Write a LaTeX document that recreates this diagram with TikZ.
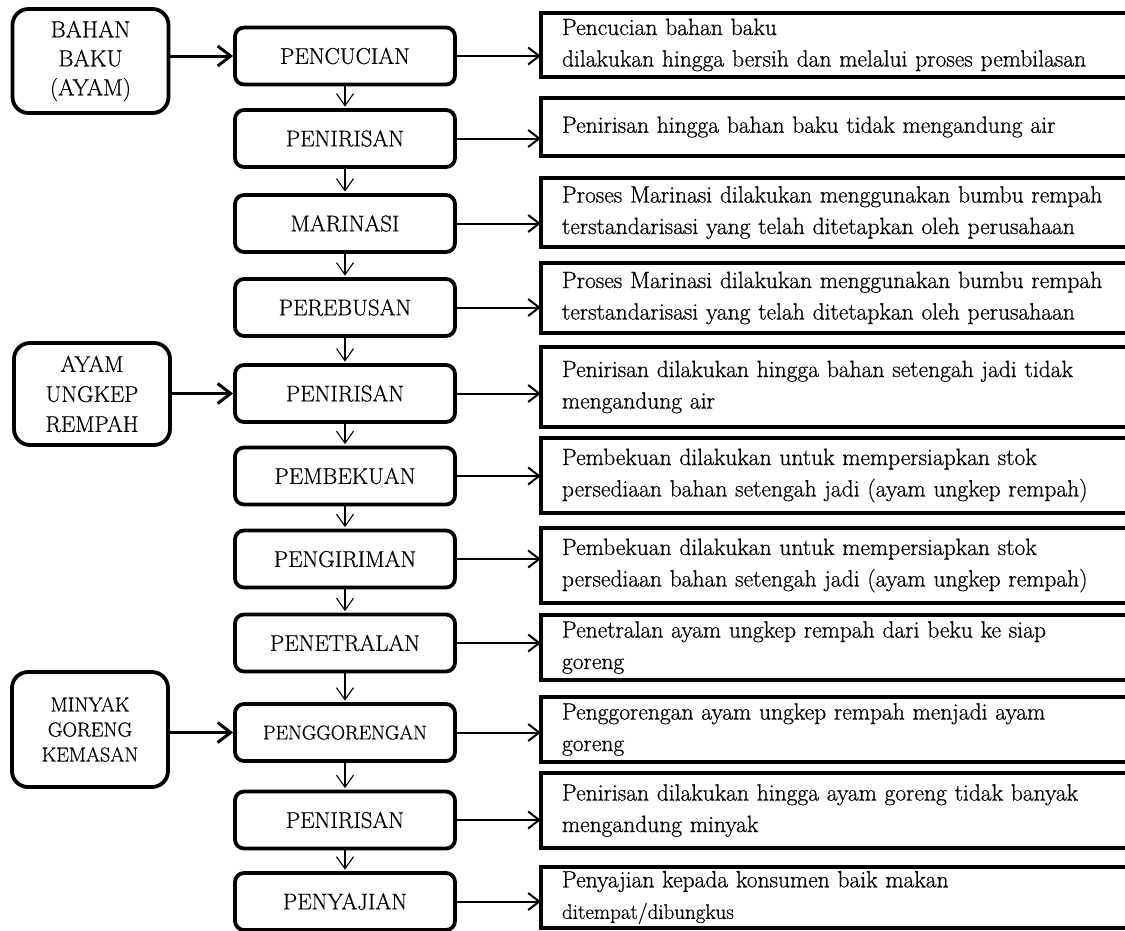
\documentclass[tikz,border=0pt]{standalone}
\usepackage{fontspec}
\setmainfont{Latin Modern Roman}[FakeBold=0.6]
\usetikzlibrary{arrows.meta}
\tikzset{
  mainbox/.style={draw, line width=3.8pt, rounded corners=9pt, minimum width=220pt, minimum height=57pt, inner sep=0pt, font=\fontsize{22.8}{28}\selectfont},
  inbox/.style={draw, line width=3.8pt, rounded corners=16pt, minimum width=156pt, inner sep=0pt, align=center},
  rbox/.style={minimum width=584pt, text width=542pt, inner xsep=21pt, inner ysep=0pt, align=left, font=\fontsize{23.5}{31.5}\selectfont},
  rline/.style={line width=4.5pt},
  larr/.style={line width=3pt, -{Straight Barb[length=13pt, width=20pt, line width=3pt]}},
  rarr/.style={line width=2pt, -{Straight Barb[length=11pt, width=17pt, line width=2pt]}},
  varr/.style={line width=1.1pt, -{Straight Barb[length=12pt, width=17pt, line width=1.1pt]}, shorten >=1.5pt}
}
\begin{document}
\begin{tikzpicture}[x=1pt, y=-1pt]
\useasboundingbox (0,0) rectangle (1125,930);
\fill[white] (0,0) rectangle (1125,930);

% input boxes
\node[inbox, minimum height=104pt, font=\fontsize{23.3}{29}\selectfont] (L1) at (90.5,61) {BAHAN\\BAKU\\(AYAM)};
\node[inbox, minimum height=102pt, font=\fontsize{22.7}{30}\selectfont] (L2) at (92,394) {AYAM\\UNGKEP\\REMPAH};
\node[inbox, minimum height=115pt, font=\fontsize{20.2}{25}\selectfont] (L3) at (90,729.5) {MINYAK\\GORENG\\KEMASAN};

% main process boxes
\node[mainbox] (m1) at (345,56) {PENCUCIAN};
\node[mainbox] (m2) at (345,138.5) {PENIRISAN};
\node[mainbox] (m3) at (345,223.5) {MARINASI};
\node[mainbox] (m4) at (345,307.5) {PEREBUSAN};
\node[mainbox] (m5) at (345,393.5) {PENIRISAN};
\node[mainbox] (m6) at (345,476) {PEMBEKUAN};
\node[mainbox] (m7) at (345,559) {PENGIRIMAN};
\node[mainbox] (m8) at (345,643) {PENETRALAN};
\node[mainbox, font=\fontsize{19.9}{24}\selectfont] (m9) at (345,732.5) {PENGGORENGAN};
\node[mainbox] (m10) at (345,820) {PENIRISAN};
\node[mainbox] (m11) at (345,901.5) {PENYAJIAN};

% description boxes
\node[rbox, minimum height=64pt] (r1) at (833,45) {Pencucian bahan baku\\dilakukan hingga bersih dan melalui proses pembilasan};
\node[rbox, minimum height=58pt] (r2) at (833,127) {Penirisan hingga bahan baku tidak mengandung air};
\node[rbox, minimum height=69pt] (r3) at (833,212.5) {Proses Marinasi dilakukan menggunakan bumbu rempah\\terstandarisasi yang telah ditetapkan oleh perusahaan};
\node[rbox, minimum height=70pt] (r4) at (833,298) {Proses Marinasi dilakukan menggunakan bumbu rempah\\terstandarisasi yang telah ditetapkan oleh perusahaan};
\node[rbox, minimum height=80pt] (r5) at (833,387) {Penirisan dilakukan hingga bahan setengah jadi tidak\\mengandung air};
\node[rbox, minimum height=75pt] (r6) at (833,475.5) {Pembekuan dilakukan untuk mempersiapkan stok\\persediaan bahan setengah jadi (ayam ungkep rempah)};
\node[rbox, minimum height=75pt] (r7) at (833,565.5) {Pembekuan dilakukan untuk mempersiapkan stok\\persediaan bahan setengah jadi (ayam ungkep rempah)};
\node[rbox, minimum height=65pt] (r8) at (833,647.5) {Penetralan ayam ungkep rempah dari beku ke siap\\goreng};
\node[rbox, minimum height=65pt] (r9) at (833,729.5) {Penggorengan ayam ungkep rempah menjadi ayam\\goreng};
\node[rbox, minimum height=75pt] (r10) at (833,810.5) {Penirisan dilakukan hingga ayam goreng tidak banyak\\mengandung minyak};
\node[rbox, minimum height=61pt] (r11) at (833,897.5) {Penyajian kepada konsumen baik makan\\{\fontsize{21}{29}\selectfont ditempat/dibungkus}};

\foreach \i in {1,...,11}{
  \draw[rline] (r\i.north east) -- (r\i.north west) -- (r\i.south west) -- (r\i.south east);
  \draw[rarr] (m\i.east) -- (m\i.east -| r\i.west);
}

% vertical flow
\foreach \a/\b in {1/2,2/3,3/4,4/5,5/6,6/7,7/8,8/9,9/10,10/11}{
  \draw[varr] (m\a.south) -- (m\b.north);
}

% inputs
\draw[larr] (L1.east |- m1.west) -- (m1.west);
\draw[larr] (L2.east |- m5.west) -- (m5.west);
\draw[larr] (L3.east |- m9.west) -- (m9.west);
\end{tikzpicture}
\end{document}
